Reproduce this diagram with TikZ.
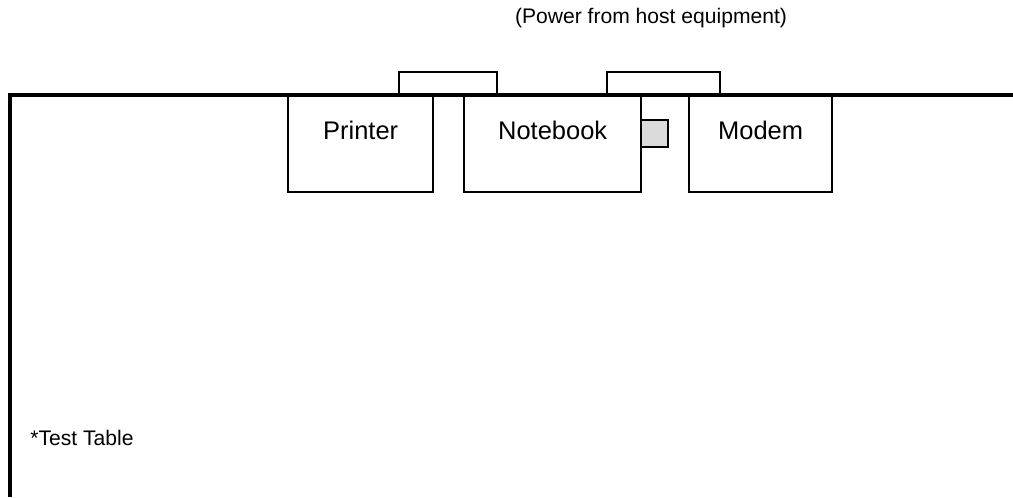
\documentclass[tikz,border=0pt]{standalone}
\usepackage{fontspec}
\setmainfont{Liberation Sans}
\usetikzlibrary{positioning}
\tikzset{
boxline/.style={line width=0.46mm},
unit/.style 2 args={draw, boxline, anchor=north west, minimum width=#1,
	minimum height=19.2mm, inner sep=0pt,
	label={[anchor=center, yshift=-7mm, font=\fontsize{14.5}{17}\selectfont]north:#2}},
port/.style={draw, boxline, fill=black!14, anchor=north west,
	minimum width=5.4mm, minimum height=5.4mm, inner sep=0pt},
cable/.style={boxline, line join=miter},
table/.style={line width=0.66mm, line join=miter},
note/.style={inner sep=0pt, font=\fontsize{12}{14}\selectfont},
}

\begin{document}
\begin{tikzpicture}[x=0.2mm, y=-0.2mm]
\useasboundingbox (0,0) rectangle (1013,497);
%Place the nodes
\node[unit={29mm}{Printer}] (printer) at (287,95) {};
\node[unit={35.4mm}{Notebook}] (notebook) at (463,95) {};
\node[unit={28.6mm}{Modem}] (modem) at (688,95) {};
\node[port] (usb) at (640,119) {};

\coordinate (c1) at (399,95);
\coordinate (c2) at (497,95);
\coordinate (c3) at (607,95);
\coordinate (c4) at (720,95);

\draw[cable] (c1) -- ++(0,-23) -| (c2);
\draw[cable] (c3) -- ++(0,-23) -| (c4);

%The table
\coordinate (tl) at (10,95);
\draw[table] (10,497) -- (tl) -- (1013,95);

\node[note] (power) at (651,18) {(Power from host equipment)};
\node[note, anchor=west] (testtable) at (30,438) {*Test Table};

\end{tikzpicture}
\end{document}
